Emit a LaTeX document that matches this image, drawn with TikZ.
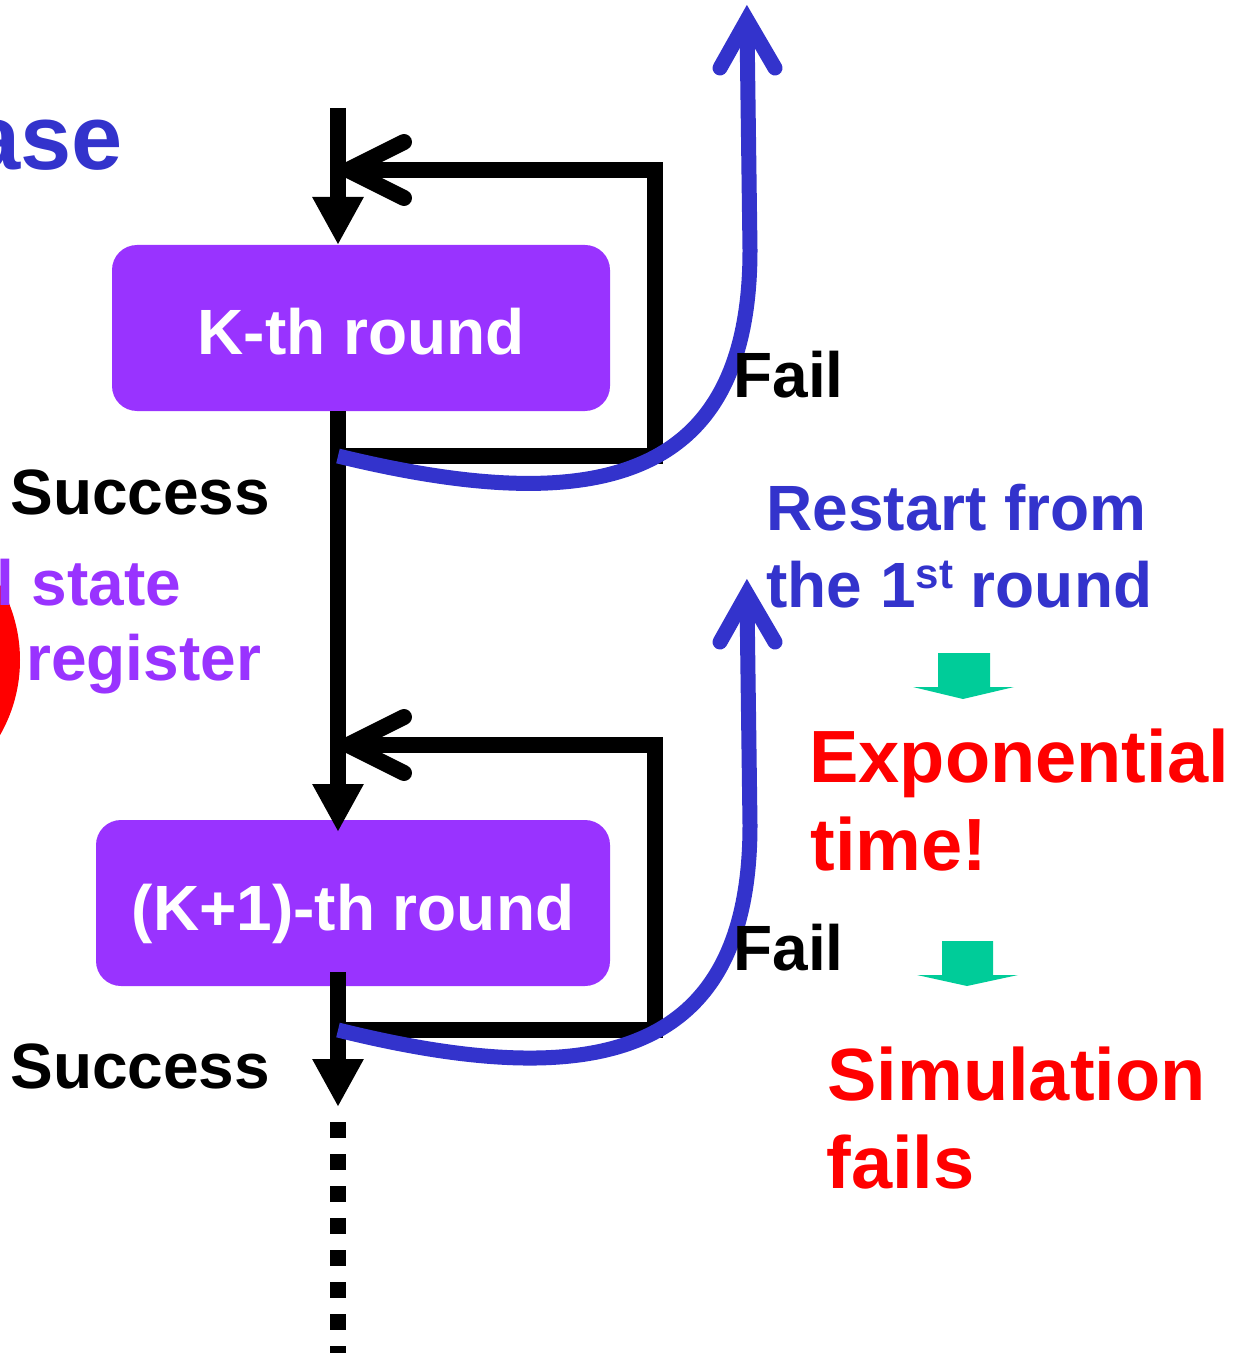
\documentclass[tikz,border=0pt]{standalone}
\usepackage{fontspec}
\setmainfont{Liberation Sans}
\usetikzlibrary{arrows.meta}
\definecolor{myblue}{HTML}{3333CC}
\definecolor{mypurple}{HTML}{9933FF}
\definecolor{myred}{HTML}{FF0000}
\definecolor{mygreen}{HTML}{00CC99}
\begin{document}
\begin{tikzpicture}[x=0.5pt,y=-0.5pt,
  lbl/.style={inner sep=0pt, anchor=base west, font=\bfseries\fontsize{32}{36}\selectfont},
  biglbl/.style={inner sep=0pt, anchor=base west, text=myred, font=\bfseries\fontsize{37}{42}\selectfont},
  blk/.style={draw=black, line width=8pt, line join=miter},
  blkhead/.style={-{Triangle[width=24pt,length=24pt]}},
  chev/.style={draw=black, line width=8pt, line cap=round, line join=miter},
  bluecurve/.style={draw=myblue, line width=7.5pt},
  bluechev/.style={draw=myblue, line width=7.5pt, line cap=round, line join=miter},
  roundbox/.style={fill=mypurple, rounded corners=12.5pt, text=white, inner sep=0pt,
     minimum height=83pt, text height=27pt, text depth=0pt,
     font=\bfseries\fontsize{32}{36}\selectfont},
  greenarrow/.style={fill=mygreen}]
\useasboundingbox (0,0) rectangle (1245,1353);
\clip (0,0) rectangle (1245,1353);

% red circle on the left edge
\fill[myred] (-131,660) circle (75.5pt);

% left texts
\node[inner sep=0pt, anchor=base east, text=myblue, font=\bfseries\fontsize{46}{52}\selectfont] (ase) at (123,170) {ase};
\node[lbl, text=mypurple] (state) at (-4,605) {l state};
\node[lbl, text=mypurple] (register) at (26,680) {register};
\node[lbl] (succ1) at (10,514) {Success};
\node[lbl] (succ2) at (10,1088) {Success};

% coordinates
\coordinate (topin) at (338,108);
\coordinate (k1in) at (338,245);
\coordinate (k1out) at (338,411);
\coordinate (k2in) at (338,832);
\coordinate (k2out) at (338,972);
\coordinate (k2end) at (338,1107);
\coordinate (dotstart) at (338,1122);
\coordinate (dotend) at (338,1370);
\coordinate (j1) at (338,456);
\coordinate (j1r) at (655,456);
\coordinate (l1t) at (655,170);
\coordinate (v1) at (348,170);
\coordinate (j2) at (338,1030);
\coordinate (j2r) at (655,1030);
\coordinate (l2t) at (655,745);
\coordinate (v2) at (348,745);

% boxes
\node[roundbox, minimum width=249pt] (k1) at (361,328) {K-th round};
\node[roundbox, minimum width=257pt] (k2) at (353,903) {(K+1)-th round};

% black connectors
\draw[blk, blkhead] (topin) -- (k1in);
\draw[blk, blkhead] (k1out) -- (k2in);
\draw[blk] (j1) -- (j1r) -- (l1t) -- (v1);
\draw[chev] (404,142) -- (v1) -- (404,198);
\draw[blk] (j2) -- (j2r) -- (l2t) -- (v2);
\draw[chev] (404,717) -- (v2) -- (404,773);
\draw[blk, blkhead] (k2out) -- (k2end);
\draw[draw=black, line width=8pt, dash pattern=on 8pt off 8pt] (dotstart) -- (dotend);

% blue restart curves
\coordinate (b1m) at (750,250);
\coordinate (b1t) at (747,26);
\coordinate (b1v) at (747,20);
\draw[bluecurve] (j1) .. controls (600,520) and (750,480) .. (b1m) -- (b1t);
\draw[bluechev] (720,68) -- (b1v) -- (775,68);
\coordinate (b2m) at (750,825);
\coordinate (b2t) at (747,600);
\coordinate (b2v) at (747,594);
\draw[bluecurve] (j2) .. controls (600,1095) and (750,1055) .. (b2m) -- (b2t);
\draw[bluechev] (720,642) -- (b2v) -- (775,642);

% right texts
\node[lbl] (fail1) at (733,397) {Fail};
\node[lbl] (fail2) at (733,970) {Fail};
\node[lbl, text=myblue] (restart) at (766,530) {Restart from};
\node[lbl, text=myblue] (first) at (766,607) {the 1\raisebox{9.5pt}{\fontsize{21}{24}\selectfont st} round};

% green arrows
\fill[greenarrow] (938,653) -- (990,653) -- (990,687) -- (1014,687) -- (963,699) -- (913,687) -- (938,687) -- cycle;
\fill[greenarrow] (942,941) -- (993,941) -- (993,975) -- (1018,975) -- (967,986) -- (917,975) -- (942,975) -- cycle;

\node[biglbl] (expo) at (809,782) {Exponential};
\node[biglbl] (time) at (810,870) {time!};
\node[biglbl] (sim) at (827,1100) {Simulation};
\node[biglbl] (fails) at (826,1188) {fails};
\end{tikzpicture}
\end{document}
